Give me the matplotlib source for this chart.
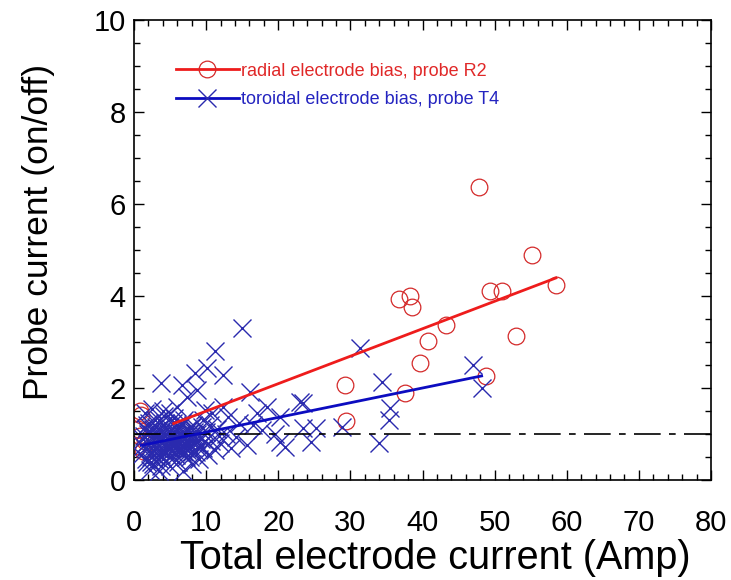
import matplotlib
matplotlib.use("Agg")
import matplotlib.pyplot as plt
import numpy as np
from matplotlib.lines import Line2D
from matplotlib.ticker import MultipleLocator

plt.rcParams['font.family'] = ['Liberation Sans', 'DejaVu Sans']

# ---- data ----
red_x = [47.8, 55.2, 58.5, 49.3, 51.0, 36.7, 38.3, 38.5, 43.3, 40.7, 53.0, 39.6,
         29.3, 37.6, 48.8, 29.4, 0.8, 1.0, 0.6, 0.9, 0.5, 1.2, 1.5]
red_y = [6.37, 4.89, 4.24, 4.11, 4.11, 3.93, 4.00, 3.76, 3.37, 3.02, 3.13, 2.54,
         2.07, 1.89, 2.26, 1.28, 1.50, 1.42, 1.10, 0.95, 0.75, 0.62, 0.85]

# dense core (x < 12)
blue_core_x = [1.0, 1.2, 1.5, 1.6, 1.8, 2.0, 2.1, 2.3, 2.5, 2.6, 2.8, 3.0, 3.1, 3.3, 3.4,
               3.6, 3.7, 3.9, 4.0, 4.1, 4.3, 4.4, 4.6, 4.7, 4.9, 5.0, 5.1, 5.2, 5.4, 5.5,
               5.7, 5.8, 6.0, 6.1, 6.3, 6.4, 6.6, 6.7, 6.9, 7.0, 7.2, 7.4, 7.5, 7.7, 7.9,
               8.1, 8.2, 8.4, 8.6, 8.8, 9.0, 9.3, 9.6, 10.0, 10.3, 10.7, 11.2, 11.8, 3.5,
               6.8, 2.2, 1.3, 1.9, 2.4, 2.9, 3.2, 3.8, 4.2, 4.5, 4.8, 5.3, 5.6, 5.9, 6.2,
               6.5, 7.1, 7.6, 8.0, 8.5, 9.1, 9.8, 1.7, 2.7, 3.5, 4.4, 5.1, 5.8, 6.6, 7.3,
               8.3, 9.4, 2.0, 3.0, 4.0, 5.0, 6.0, 7.0, 8.0,
               1.4, 2.3, 3.3, 4.1, 4.9, 5.6, 6.3, 7.0, 7.8, 8.6, 1.8, 2.6, 3.4, 4.3, 5.2,
               6.0, 6.9, 7.7, 2.9, 4.6, 5.5, 6.4, 3.7, 5.8, 4.2, 6.7, 2.4, 8.9]
blue_core_y = [0.55, 0.90, 0.70, 1.10, 0.40, 0.85, 1.25, 0.60, 1.00, 0.35, 0.75, 1.15, 0.50,
               0.90, 1.30, 0.65, 1.05, 0.80, 0.45, 1.20, 0.95, 0.60, 1.10, 0.75, 0.90, 0.30,
               1.00, 0.55, 1.25, 0.85, 0.70, 1.05, 0.95, 0.40, 1.15, 0.80, 0.60, 1.00, 0.90,
               1.30, 0.50, 0.85, 1.10, 0.70, 0.95, 0.35, 1.20, 0.80, 0.60, 1.00, 0.45, 0.90,
               0.70, 1.05, 0.55, 0.85, 0.65, 0.95, 0.20, 0.20, 0.22, 0.75, 1.00, 0.50, 0.95,
               0.70, 0.55, 0.85, 1.00, 0.50, 0.80, 0.95, 0.75, 0.65, 1.00, 0.70, 0.90, 0.60,
               0.95, 0.75, 0.85, 0.45, 0.65, 1.10, 0.75, 0.70, 0.85, 1.20, 0.65, 1.05, 1.15,
               1.05, 0.80, 0.65, 0.70, 0.85, 0.80, 1.15,
               0.95, 0.80, 0.95, 0.65, 1.05, 0.90, 0.85, 0.60, 1.05, 0.90, 1.20, 1.10, 0.45,
               1.25, 0.75, 1.20, 0.75, 0.50, 1.30, 0.85, 1.35, 0.95, 0.30, 0.55, 1.40, 1.25,
               0.40, 0.70]
# scattered points
blue_out_x = [1.5, 2.5, 4.0, 5.0, 5.9, 7.3, 6.6, 3.8, 8.7, 8.5, 9.8, 10.1, 11.2, 12.4,
              15.0, 16.1, 18.4, 20.2, 23.0, 12.4, 13.1, 16.5, 17.7, 20.2, 15.6, 14.2,
              11.9, 23.5, 31.3, 34.4, 35.5, 35.3, 33.9, 23.5, 25.3, 24.6, 28.8, 47.0,
              48.2, 21.0, 9.5, 10.5, 11.5, 12.8, 13.5, 10.8, 14.5, 19.5, 17.0]
blue_out_y = [1.45, 1.55, 1.50, 1.45, 1.59, 1.81, 2.07, 2.10, 1.96, 2.33, 1.52, 2.43, 2.81,
              2.28, 3.30, 1.92, 1.59, 1.38, 1.70, 1.59, 1.38, 1.20, 1.09, 0.83, 0.76, 0.94,
              0.80, 1.13, 2.86, 2.14, 1.56, 1.30, 0.80, 1.67, 1.12, 0.83, 1.16, 2.50, 1.99,
              0.72, 1.30, 1.20, 1.10, 1.00, 0.70, 1.45, 1.25, 1.00, 1.45]
blue_x = blue_core_x + blue_out_x
blue_y = blue_core_y + blue_out_y

# linear fits as drawn (intercept, slope) and their drawn x-range
red_fit = [0.90, 0.0597]
red_fit_range = [5.5, 58.5]
blue_fit = [0.72, 0.0320]
blue_fit_range = [1.0, 48.2]
ref_level = 1.0

red_label = "radial electrode bias, probe R2"
blue_label = "toroidal electrode bias, probe T4"
xlabel = "Total electrode current (Amp)"
ylabel = "Probe current (on/off)"

RED_M = '#d42a2a'
RED_L = '#ee1c1c'
BLUE_M = '#2a2aae'
BLUE_L = '#0c0cc0'

fig = plt.figure(figsize=(7.31, 5.80), dpi=100)
ax = fig.add_axes([134/731, 100/580, 577/731, 460/580])

ax.plot(red_x, red_y, linestyle='none', marker='o', markersize=12,
        markerfacecolor='none', markeredgecolor=RED_M, markeredgewidth=0.9, zorder=2)
ax.plot(blue_x, blue_y, linestyle='none', marker='x', markersize=13,
        markeredgecolor=BLUE_M, markeredgewidth=1.0, zorder=3)

ax.plot([0, 80], [ref_level, ref_level], color='black', lw=1.2,
        dashes=[16, 5, 4, 5], zorder=4)

rx = np.array(red_fit_range)
ax.plot(rx, red_fit[0] + red_fit[1] * rx, color=RED_L, lw=2.0, zorder=5)
bx = np.array(blue_fit_range)
ax.plot(bx, blue_fit[0] + blue_fit[1] * bx, color=BLUE_L, lw=2.0, zorder=5)

ax.set_xlim(0, 80)
ax.set_ylim(0, 10)
ax.xaxis.set_major_locator(MultipleLocator(10))
ax.xaxis.set_minor_locator(MultipleLocator(2))
ax.yaxis.set_major_locator(MultipleLocator(2))
ax.yaxis.set_minor_locator(MultipleLocator(0.5))
ax.tick_params(which='both', direction='in', top=True, right=True, width=1.0,
               labelsize=21, colors='black')
ax.tick_params(which='major', length=7)
ax.tick_params(which='minor', length=4)
ax.tick_params(axis='x', which='major', pad=21)
ax.tick_params(axis='y', which='major', pad=6)
for s in ax.spines.values():
    s.set_linewidth(1.2)

ax.set_xlabel(xlabel, fontsize=28.5)
ax.xaxis.set_label_coords(0.522, -0.129)
ax.set_ylabel(ylabel, fontsize=25.5)
ax.yaxis.set_label_coords(-0.137, 0.54)

h_red = Line2D([], [], color=RED_L, lw=2.0, marker='o', markersize=12,
               markerfacecolor='none', markeredgecolor=RED_M, markeredgewidth=0.9)
h_blue = Line2D([], [], color=BLUE_L, lw=2.0, marker='x', markersize=13,
                markeredgecolor=BLUE_M, markeredgewidth=1.0)
leg = ax.legend([h_red, h_blue], [red_label, blue_label], loc='upper left',
                bbox_to_anchor=(0.072, 0.907), frameon=False, fontsize=13,
                handlelength=3.5, handletextpad=0.15, labelspacing=0.62,
                borderpad=0, borderaxespad=0, numpoints=1)
for t, c in zip(leg.get_texts(), ['#e02828', '#2424c0']):
    t.set_color(c)

fig.savefig('out.png', dpi=100)
